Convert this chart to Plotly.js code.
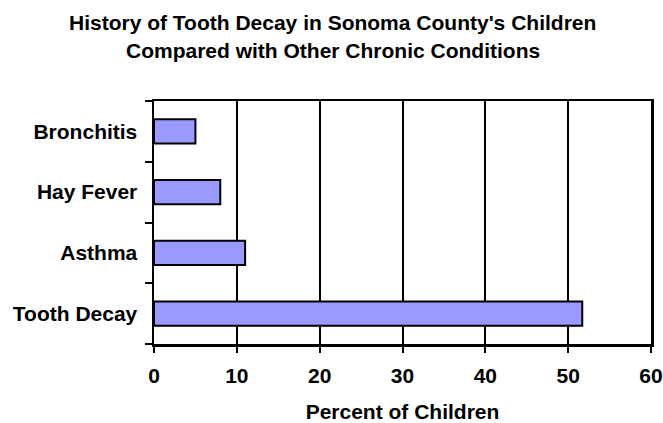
<!DOCTYPE html>
<html>
<head>
<meta charset="utf-8">
<script src="https://cdn.plot.ly/plotly-3.0.1.min.js"></script>
<style>
  html, body { margin: 0; padding: 0; background: #fff; }
  #chart { width: 663px; height: 423px; }
</style>
</head>
<body>
<div id="chart"></div>
<script>
// Share of children with each condition (percent)
const conditions = ["Tooth Decay", "Asthma", "Hay Fever", "Bronchitis"];
const percentChildren = [51.7, 11, 8, 5];
const xTickValues = [0, 10, 20, 30, 40, 50, 60];
const titleLines = [
  "History of Tooth Decay in Sonoma County's Children",
  "Compared with Other Chronic Conditions"
];

const FONT = "Liberation Sans, Arial, sans-serif";
const MARGIN = { l: 154, r: 12, t: 101, b: 79 };
const HEIGHT = 423;
const plotH = HEIGHT - MARGIN.t - MARGIN.b;

// place a heading line by its pixel distance from the top of the page
function headingY(pxFromTop) {
  return (HEIGHT - MARGIN.b - pxFromTop) / plotH;
}

const trace = {
  type: "bar",
  orientation: "h",
  y: conditions,
  x: percentChildren,
  marker: {
    color: "#9999FF",
    line: { color: "#000000", width: 2 }
  },
  hoverinfo: "x+y"
};

const layout = {
  width: 663,
  height: HEIGHT,
  margin: MARGIN,
  paper_bgcolor: "#ffffff",
  plot_bgcolor: "#ffffff",
  showlegend: false,
  bargap: 0.6,
  font: { family: FONT, color: "#000000" },
  annotations: titleLines.map((line, i) => ({
    text: "<b>" + line + "</b>",
    xref: "paper",
    yref: "paper",
    x: 0.36,
    y: headingY(i === 0 ? 23 : 50.5),
    xanchor: "center",
    yanchor: "middle",
    showarrow: false,
    font: { family: FONT, size: 21, color: "#000000" }
  })),
  xaxis: {
    range: [0, 60],
    tickvals: xTickValues,
    ticktext: xTickValues.map(String),
    showgrid: true,
    gridcolor: "#000000",
    gridwidth: 2,
    zeroline: false,
    showline: true,
    linecolor: "#000000",
    linewidth: 2.5,
    mirror: true,
    ticks: "outside",
    ticklen: 6,
    tickwidth: 2,
    tickcolor: "#000000",
    tickfont: { family: FONT, size: 21, color: "#000000", weight: "bold" },
    ticklabelstandoff: 5,
    title: {
      text: "<b>Percent of Children</b>",
      font: { family: FONT, size: 21, color: "#000000" },
      standoff: 27
    },
    fixedrange: true
  },
  yaxis: {
    type: "category",
    categoryorder: "array",
    categoryarray: conditions,
    showgrid: false,
    zeroline: false,
    showline: true,
    linecolor: "#000000",
    linewidth: 2.5,
    mirror: true,
    ticks: "outside",
    tickson: "boundaries",
    ticklen: 7,
    tickwidth: 2,
    tickcolor: "#000000",
    tickfont: { family: FONT, size: 21, color: "#000000", weight: "bold" },
    ticklabelstandoff: 10,
    fixedrange: true
  }
};

Plotly.newPlot("chart", [trace], layout, { displayModeBar: false, staticPlot: true });
</script>
</body>
</html>
